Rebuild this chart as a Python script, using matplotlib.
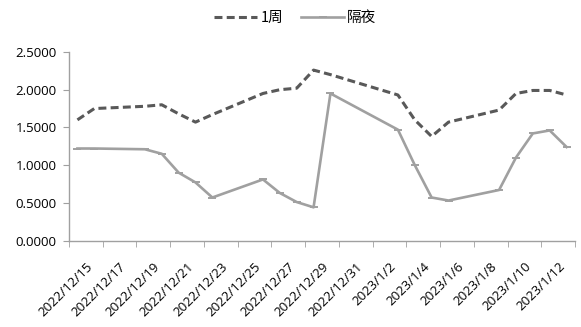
import datetime as dt
import matplotlib
matplotlib.use('Agg')
import matplotlib.pyplot as plt
from matplotlib.transforms import ScaledTranslation

# trading days and rates (%)
dates = ['2022/12/15', '2022/12/16', '2022/12/19', '2022/12/20', '2022/12/21',
         '2022/12/22', '2022/12/23', '2022/12/26', '2022/12/27', '2022/12/28',
         '2022/12/29', '2022/12/30', '2023/1/3', '2023/1/4', '2023/1/5',
         '2023/1/6', '2023/1/9', '2023/1/10', '2023/1/11', '2023/1/12', '2023/1/13']
week1 = [1.60, 1.75, 1.78, 1.80, 1.68, 1.57, 1.67, 1.95, 2.00, 2.02,
         2.26, 2.20, 1.93, 1.60, 1.38, 1.57, 1.73, 1.95, 1.99, 1.99, 1.93]
overnight = [1.22, 1.22, 1.21, 1.15, 0.90, 0.77, 0.57, 0.81, 0.63, 0.51,
             0.44, 1.95, 1.47, 1.00, 0.57, 0.53, 0.67, 1.10, 1.42, 1.46, 1.24]
tick_labels = ['2022/12/15', '2022/12/17', '2022/12/19', '2022/12/21', '2022/12/23',
               '2022/12/25', '2022/12/27', '2022/12/29', '2022/12/31', '2023/1/2',
               '2023/1/4', '2023/1/6', '2023/1/8', '2023/1/10', '2023/1/12']

start = dt.datetime.strptime(dates[0], '%Y/%m/%d')
def day_no(s):
    return (dt.datetime.strptime(s, '%Y/%m/%d') - start).days

x = [day_no(d) for d in dates]
xt = [day_no(d) for d in tick_labels]

fig = plt.figure(figsize=(5.81, 3.27), dpi=100)
ax = fig.add_axes([69/581, 1 - 240.5/327, (575 - 69)/581, (240.5 - 52)/327])

ax.plot(x, week1, color='#595959', lw=2.2, dashes=(2.6, 1.4), label='1周',
        dash_capstyle='butt')
ax.plot(x, overnight, color='#a0a0a0', lw=1.9, label='隔夜',
        marker='_', ms=6, mew=1.4)

ax.set_xlim(-0.5, 29.5)
ax.set_ylim(0, 2.5)
yt = [0, 0.5, 1.0, 1.5, 2.0, 2.5]
ax.set_yticks(yt)
ax.set_yticklabels(['%.4f' % v for v in yt], family='Open Sans', fontsize=9.5)
ax.set_xticks(xt)
ax.set_xticklabels(tick_labels, rotation=45, ha='right', rotation_mode='anchor',
                   family='Open Sans', fontsize=9.5)
ax.set_xticks([i - 0.5 for i in range(0, 31, 2)], minor=True)
ax.tick_params(axis='x', which='major', length=0, pad=14)
ax.tick_params(axis='x', which='minor', length=4, color='#a0a0a0', direction='out')
ax.tick_params(axis='y', length=4, color='#a0a0a0', direction='out', pad=5)
# shift date labels a little to the right, like the original
for lab in ax.get_xticklabels():
    lab.set_transform(lab.get_transform() + ScaledTranslation(6/72, 0, fig.dpi_scale_trans))

for s in ['top', 'right']:
    ax.spines[s].set_visible(False)
for s in ['left', 'bottom']:
    ax.spines[s].set_color('#a0a0a0')
    ax.spines[s].set_linewidth(1)

fig.legend(loc='center', bbox_to_anchor=(0.508, 0.945), ncol=2, frameon=False,
           handlelength=3, handletextpad=0.2, columnspacing=1.2,
           prop={'family': ['Noto Sans CJK SC', 'DejaVu Sans'], 'size': 10.5})

fig.savefig('out.png', dpi=100)
